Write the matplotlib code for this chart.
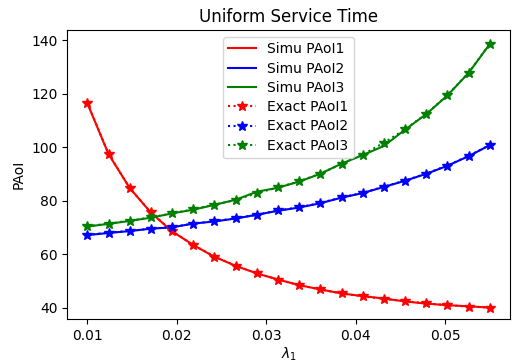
import numpy as np
import matplotlib.pyplot as plt

# arrival rates of source 1
lam1 = np.linspace(0.01, 0.055, 20)

# simulated PAoI
simu1 = [116.5, 97.5, 84.8, 75.6, 68.6, 63.5, 59.1, 55.7, 52.9, 50.6,
         48.5, 46.9, 45.4, 44.4, 43.5, 42.4, 41.6, 41.0, 40.6, 40.1]
simu2 = [67.2, 68.0, 68.7, 69.6, 70.1, 71.5, 72.3, 73.4, 74.8, 76.3,
         77.5, 79.1, 81.2, 82.9, 85.2, 87.5, 90.1, 93.1, 96.7, 100.8]
simu3 = [70.4, 71.4, 72.5, 73.7, 75.3, 76.7, 78.5, 80.4, 83.4, 84.9,
         87.2, 90.1, 93.9, 97.1, 100.5, 106.6, 112.4, 119.4, 127.8, 138.6]

# exact (analytical) PAoI
exact1 = [116.6, 97.6, 84.8, 75.7, 68.7, 63.5, 59.2, 55.8, 52.9, 50.6,
          48.5, 46.9, 45.4, 44.3, 43.4, 42.5, 41.7, 41.0, 40.5, 40.1]
exact2 = [67.3, 68.1, 68.8, 69.6, 70.2, 71.5, 72.4, 73.5, 74.8, 76.4,
          77.6, 79.2, 81.3, 83.0, 85.3, 87.6, 90.2, 93.2, 96.8, 100.9]
exact3 = [70.5, 71.5, 72.6, 73.8, 75.3, 76.8, 78.6, 80.3, 82.9, 85.0,
          87.3, 90.2, 93.8, 97.3, 101.7, 106.7, 112.5, 119.5, 127.9, 138.7]

fig = plt.figure(figsize=(5.13, 3.64), dpi=100)
ax = fig.add_axes([0.131, 0.124, 0.863, 0.794])

ax.plot(lam1, simu1, 'r-', label='Simu PAoI1')
ax.plot(lam1, simu2, 'b-', label='Simu PAoI2')
ax.plot(lam1, simu3, 'g-', label='Simu PAoI3')
ax.plot(lam1, exact1, 'r:*', ms=7, label='Exact PAoI1')
ax.plot(lam1, exact2, 'b:*', ms=7, label='Exact PAoI2')
ax.plot(lam1, exact3, 'g:*', ms=7, label='Exact PAoI3')

ax.set_title('Uniform Service Time')
ax.set_xlabel(r'$\lambda_1$', labelpad=2)
ax.set_ylabel('PAoI')
ax.set_xlim(0.00775, 0.05725)
ax.set_ylim(35.9, 143.9)
ax.set_yticks([40, 60, 80, 100, 120, 140])
ax.legend(loc='upper center', labelspacing=0.38)

fig.savefig('out.png')
